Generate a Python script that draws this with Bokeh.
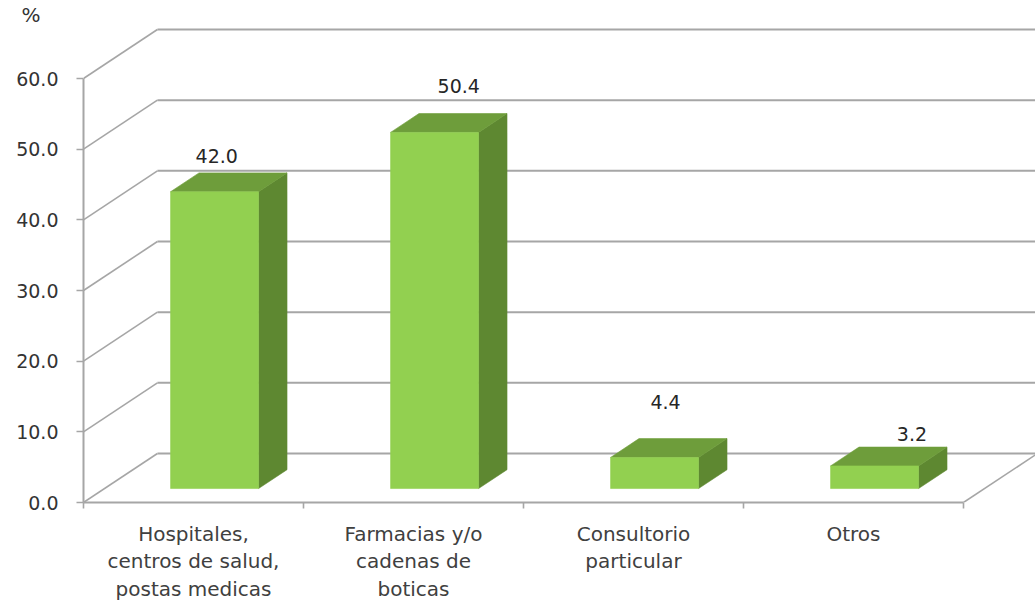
import numpy as np
from bokeh.plotting import figure
from bokeh.models import Range1d, FixedTicker, PrintfTickFormatter
from bokeh.core.properties import value
from bokeh.embed import file_html
from bokeh.resources import INLINE

# ---- data -------------------------------------------------------------
categories = [
    "Hospitales,\ncentros de salud,\npostas medicas",
    "Farmacias y/o\ncadenas de\nboticas",
    "Consultorio\nparticular",
    "Otros",
]
percent = [42.0, 50.4, 4.4, 3.2]
y_ticks = [0, 10, 20, 30, 40, 50, 60]

# ---- 3-D look (oblique projection) -------------------------------------
DEPTH_X = 0.336      # wall depth along x, in category units
DEPTH_Y = 6.93       # wall depth along y, in percent units
BAR_WIDTH = 0.40
BAR_FRONT = 0.285    # fraction of depth where bar front face sits
BAR_BACK = 0.67      # fraction of depth where bar back face sits

# value label nudges (category units, percent units)
label_dx = [0.01, 0.11, 0.05, 0.17]
label_dy = [5.1, 6.5, 7.9, 4.5]

FONT = "DejaVu Sans"
GRID = "#a6a6a6"
FRONT_FILL = "#92d050"
TOP_FILL = "#6e9d3b"
SIDE_FILL = "#5e8831"

PX_PER_CAT = 220.0
PX_PER_PCT = 424 / 60.0
FRAME_W = 952
FRAME_H = 476
TOP = 26

n = len(categories)

p = figure(frame_width=FRAME_W, frame_height=FRAME_H,
           output_backend="svg", toolbar_location=None,
           x_range=Range1d(0, FRAME_W / PX_PER_CAT),
           y_range=Range1d(0, FRAME_H / PX_PER_PCT),
           min_border_left=83, min_border_right=0, min_border_top=TOP,
           min_border_bottom=10)
p.outline_line_color = None
p.xgrid.visible = False
p.ygrid.visible = False
p.background_fill_color = "white"
p.border_fill_color = "white"

# unit marker above the value axis
p.title.text = "%"
p.title.align = "left"
p.title.offset = -62
p.title.standoff = 0
p.title.text_font = FONT
p.title.text_font_size = "20px"
p.title.text_font_style = "normal"
p.title.text_color = "#333333"

# back wall gridlines
t = np.array(y_ticks, dtype=float)
p.segment(x0=np.full_like(t, DEPTH_X), y0=t + DEPTH_Y,
          x1=np.full_like(t, n + DEPTH_X), y1=t + DEPTH_Y,
          line_color=GRID, line_width=2)
# side wall diagonals
p.segment(x0=np.zeros_like(t), y0=t, x1=np.full_like(t, DEPTH_X), y1=t + DEPTH_Y,
          line_color=GRID, line_width=1.6)
# floor right edge
p.segment(x0=[n], y0=[0], x1=[n + DEPTH_X], y1=[DEPTH_Y],
          line_color=GRID, line_width=1.6)

# bars
bdx = (BAR_BACK - BAR_FRONT) * DEPTH_X
bdy = (BAR_BACK - BAR_FRONT) * DEPTH_Y
fx, fy, tx, ty, sx, sy = [], [], [], [], [], []
for i, v in enumerate(percent):
    cx = i + 0.5 + BAR_FRONT * DEPTH_X
    y0 = BAR_FRONT * DEPTH_Y
    x0, x1 = cx - BAR_WIDTH / 2, cx + BAR_WIDTH / 2
    fx.append([x0, x1, x1, x0]); fy.append([y0, y0, y0 + v, y0 + v])
    tx.append([x0, x1, x1 + bdx, x0 + bdx]); ty.append([y0 + v, y0 + v, y0 + v + bdy, y0 + v + bdy])
    sx.append([x1, x1 + bdx, x1 + bdx, x1]); sy.append([y0, y0 + bdy, y0 + v + bdy, y0 + v])

p.patches(sx, sy, fill_color=SIDE_FILL, line_color=SIDE_FILL, line_width=0.6)
p.patches(tx, ty, fill_color=TOP_FILL, line_color=TOP_FILL, line_width=0.6)
p.patches(fx, fy, fill_color=FRONT_FILL, line_color=FRONT_FILL, line_width=0.6)

# value labels
lx = [i + 0.5 + BAR_FRONT * DEPTH_X + dx for i, dx in enumerate(label_dx)]
ly = [v + BAR_FRONT * DEPTH_Y + dy for v, dy in zip(percent, label_dy)]
p.text(x=lx, y=ly, text=[f"{v:.1f}" for v in percent],
       text_font=value(FONT), text_font_size="19px", text_color="#262626",
       text_align="center", text_baseline="middle")

# y axis
ya = p.yaxis[0]
ya.ticker = FixedTicker(ticks=y_ticks)
ya.formatter = PrintfTickFormatter(format="%.1f")
ya.bounds = (0, 60)
ya.axis_line_color = GRID
ya.axis_line_width = 2
ya.major_tick_line_color = GRID
ya.major_tick_line_width = 1.6
ya.major_tick_in = 0
ya.major_tick_out = 7
ya.minor_tick_line_color = None
ya.major_label_standoff = 18
ya.major_label_text_font = FONT
ya.major_label_text_font_size = "19px"
ya.major_label_text_color = "#333333"

# x axis (ticks on category boundaries, labels at centres)
xa = p.xaxis[0]
centres = [i + 0.5 for i in range(n)]
xa.ticker = FixedTicker(ticks=centres, minor_ticks=list(range(n + 1)))
xa.major_label_overrides = {c: lab for c, lab in zip(centres, categories)}
xa.bounds = (0, n)
xa.axis_line_color = GRID
xa.axis_line_width = 2
xa.major_tick_line_color = None
xa.major_tick_in = 0
xa.major_tick_out = 0
xa.minor_tick_line_color = GRID
xa.minor_tick_line_width = 1.6
xa.minor_tick_in = 0
xa.minor_tick_out = 6
xa.major_label_standoff = 13
xa.major_label_text_font = FONT
xa.major_label_text_font_size = "20px"
xa.major_label_text_color = "#404040"
xa.major_label_text_line_height = 1.15

open("out.html", "w").write(file_html(p, INLINE))
